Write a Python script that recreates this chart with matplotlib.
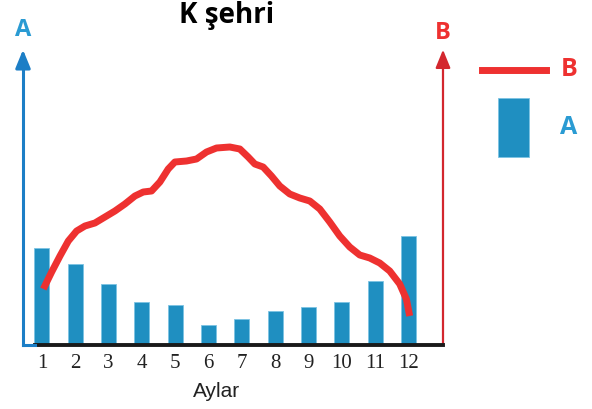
import matplotlib.pyplot as plt
from matplotlib.lines import Line2D
from matplotlib.patches import Rectangle

months = list(range(1, 13))
month_labels = [str(m) for m in months]

# A: monthly bars (arbitrary units, no scale shown)
a_values = [97, 81, 61, 43, 40, 20, 26, 34, 38, 43, 64, 109]

# B: curve (month position, value)
b_x = [1.04, 1.29, 1.54, 1.79, 2.04, 2.29, 2.59, 2.89, 3.19, 3.49, 3.79, 4.04,
       4.29, 4.54, 4.79, 4.99, 5.34, 5.64, 5.94, 6.24, 6.64, 6.94, 7.19, 7.39,
       7.64, 7.89, 8.14, 8.44, 8.74, 9.04, 9.34, 9.64, 9.94, 10.24, 10.54, 10.84,
       11.14, 11.44, 11.74, 11.94, 12.04]
b_y = [56, 73, 89, 104, 114, 119, 122, 128, 134, 141, 149, 153,
       154, 163, 176, 183, 184, 186, 193, 197, 198, 196, 188, 181,
       178, 169, 159, 151, 147, 144, 136, 123, 109, 98, 90, 87,
       82, 74, 61, 46, 29]

bar_blue = '#1f8fc1'
axis_blue = '#1c7ec6'
red = '#ee3130'
axis_red = '#d3272e'

W, H = 592, 410
fig = plt.figure(figsize=(W / 100, H / 100), dpi=100)
ax = fig.add_axes([23 / W, 64 / H, 420 / W, 276 / H])

ax.bar(months, a_values, width=0.45, color=bar_blue, edgecolor='#7cc3e3', linewidth=0.6, zorder=2)
ax.plot(b_x, b_y, color=red, lw=5, solid_capstyle='butt', solid_joinstyle='round', zorder=3)

ax.set_xlim(0.43, 13.04)
ax.set_ylim(0, 276)

for s in ['top', 'bottom']:
    ax.spines[s].set_visible(False)
ax.spines['left'].set_color(axis_blue)
ax.spines['left'].set_linewidth(2.2)
ax.spines['right'].set_color(axis_red)
ax.spines['right'].set_linewidth(1.6)
ax.axhline(0, xmin=(35 - 23) / 420, xmax=1, color='#1a1a1a', lw=2.8, zorder=4, clip_on=False)
ax.axhline(0, xmin=0, xmax=(35 - 23) / 420, color=axis_blue, lw=2.2, zorder=4, clip_on=False)

ax.set_yticks([])
ax.set_xticks(months)
ax.set_xticklabels(month_labels, fontfamily='Liberation Serif', fontsize=15, color='#222222')
ax.tick_params(axis='x', length=0, pad=6)
ax.set_xlabel('Aylar', fontfamily='Liberation Sans', fontsize=15, color='#222222')
ax.xaxis.set_label_coords((217 - 23) / 420, -0.13)

# arrow heads on the two vertical axes
ax.annotate('', xy=(0, 1.08), xytext=(0, 0.99), xycoords='axes fraction',
            arrowprops=dict(arrowstyle='-|>,head_length=1.1,head_width=0.45', color=axis_blue, lw=2.2))
ax.annotate('', xy=(1, 1.08), xytext=(1, 0.99), xycoords='axes fraction',
            arrowprops=dict(arrowstyle='-|>,head_length=1.1,head_width=0.45', color=axis_red, lw=1.6))

fig.text(23 / W, 1 - 30 / H, 'A', color='#2a9bd3', fontsize=17, fontweight='bold',
         fontfamily='Open Sans', ha='center', va='center')
fig.text(443 / W, 1 - 33 / H, 'B', color=red, fontsize=17, fontweight='bold',
         fontfamily='Open Sans', ha='center', va='center')
fig.text(227 / W, 1 - 16 / H, 'K şehri', color='black', fontsize=20, fontweight='bold',
         fontfamily='Open Sans', ha='center', va='center')

# legend on the right
fig.add_artist(Line2D([482 / W, 546 / W], [1 - 71 / H, 1 - 71 / H], color=red, lw=5))
fig.add_artist(Rectangle((498 / W, 1 - 158 / H), 31 / W, 59 / H, facecolor=bar_blue,
                         edgecolor='#7cc3e3', lw=0.6))
fig.text(569 / W, 1 - 70 / H, 'B', color=red, fontsize=18, fontweight='bold',
         fontfamily='Open Sans', ha='center', va='center')
fig.text(569 / W, 1 - 128 / H, 'A', color='#2a9bd3', fontsize=18, fontweight='bold',
         fontfamily='Open Sans', ha='center', va='center')

fig.savefig('out.png', dpi=100)
